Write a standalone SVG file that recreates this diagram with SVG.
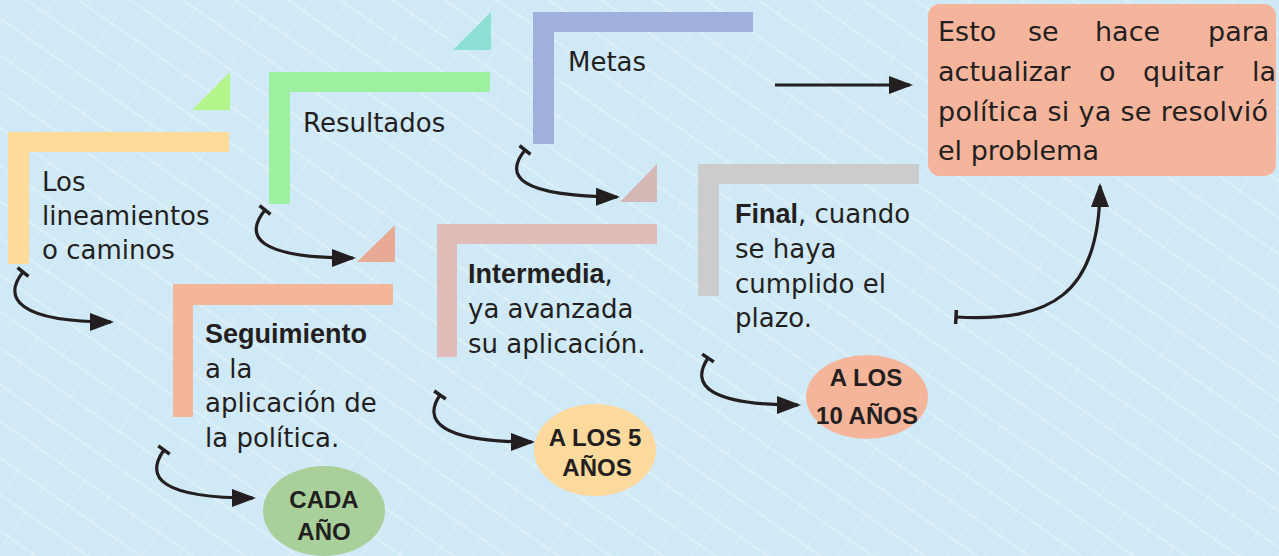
<svg xmlns="http://www.w3.org/2000/svg" width="1279" height="556" viewBox="0 0 1279 556">
<defs>
<style>
.t{font-family:"DejaVu Sans","Liberation Sans",sans-serif;font-size:26px;fill:#231f20}
.b{font-family:"Liberation Sans",Arial,sans-serif;font-size:27px;font-weight:bold}
.bx{font-family:"DejaVu Sans","Liberation Sans",sans-serif;font-size:27px;fill:#231f20}
.el{font-family:"Liberation Sans",Arial,sans-serif;font-size:24px;font-weight:bold;fill:#231f20;text-anchor:middle}
.c{fill:none;stroke:#231f20;stroke-width:3.2}
</style>
<pattern id="tex" width="60" height="60" patternUnits="userSpaceOnUse" patternTransform="rotate(35)">
<path d="M0,15 H60 M0,45 H60" stroke="#ffffff" stroke-opacity="0.28" stroke-width="2"/>
<path d="M15,0 V60 M45,0 V60" stroke="#ffffff" stroke-opacity="0.18" stroke-width="1.5"/>
</pattern>
<marker id="tee" markerUnits="userSpaceOnUse" markerWidth="20" markerHeight="20" viewBox="-10 -10 20 20" refX="0" refY="0" orient="auto">
<path d="M0,-7 V7" stroke="#231f20" stroke-width="3.5"/>
</marker>
<marker id="arr" markerUnits="userSpaceOnUse" markerWidth="24" markerHeight="20" viewBox="0 0 24 20" refX="21" refY="10" orient="auto">
<path d="M0,1 L24,10 L0,19 z" fill="#231f20"/>
</marker>
</defs>
<rect width="1279" height="556" fill="#d0e9f6"/>
<rect width="1279" height="556" fill="url(#tex)"/>

<g id="triangles">
<path d="M230,72 V110 H192 Z" fill="#b4f68b"/>
<path d="M491,12 V50 H453 Z" fill="#8ce0d4"/>
<path d="M395,225 V262 H357 Z" fill="#e8a995"/>
<path d="M657,164 V202 H620 Z" fill="#d4b8b4"/>
</g>

<g id="node-lineamientos">
<path d="M8,132 H229 V152 H29 V264 H8 Z" fill="#fddb99"/>
<text class="t" x="42" y="191">Los</text>
<text class="t" x="42" y="225">lineamientos</text>
<text class="t" x="42" y="259">o caminos</text>
</g>

<g id="node-resultados">
<path d="M269,72 H490 V92 H290 V204 H269 Z" fill="#9cf0a0"/>
<text class="t" x="303" y="132">Resultados</text>
</g>

<g id="node-metas">
<path d="M533,12 H753 V32 H554 V144 H533 Z" fill="#9fb0dc"/>
<text class="t" x="568" y="71">Metas</text>
</g>

<g id="node-seguimiento">
<path d="M173,284 H393 V305 H193 V417 H173 Z" fill="#f5b59b"/>
<text class="t" x="205" y="343"><tspan class="b">Seguimiento</tspan></text>
<text class="t" x="205" y="378">a la</text>
<text class="t" x="205" y="412">aplicación de</text>
<text class="t" x="205" y="447">la política.</text>
</g>

<g id="node-intermedia">
<path d="M437,224 H657 V244 H457 V357 H437 Z" fill="#e0bdb8"/>
<text class="t" x="468" y="283"><tspan class="b">Intermedia</tspan>,</text>
<text class="t" x="468" y="318">ya avanzada</text>
<text class="t" x="468" y="353">su aplicación.</text>
</g>

<g id="node-final">
<path d="M698,164 H919 V184 H719 V296 H698 Z" fill="#cccccc"/>
<text class="t" x="735" y="223"><tspan class="b">Final</tspan>, cuando</text>
<text class="t" x="735" y="258">se haya</text>
<text class="t" x="735" y="293">cumplido el</text>
<text class="t" x="735" y="327">plazo.</text>
</g>

<g id="node-actualizar">
<rect x="928" y="4" width="348" height="172" rx="12" fill="#f5b59c"/>
<text class="bx" y="41"><tspan x="938">Esto</tspan><tspan x="1028">se</tspan><tspan x="1095">hace</tspan><tspan x="1208">para</tspan></text>
<text class="bx" y="81"><tspan x="938">actualizar</tspan><tspan x="1099">o</tspan><tspan x="1143">quitar</tspan><tspan x="1252">la</tspan></text>
<text class="bx" x="938" y="121" textLength="330" lengthAdjust="spacing">política si ya se resolvió</text>
<text class="bx" x="938" y="160">el problema</text>
</g>

<g id="node-cada-ano">
<ellipse cx="324" cy="511" rx="61" ry="45" fill="#a9d09a"/>
<text class="el" x="324" y="508">CADA</text>
<text class="el" x="324" y="540">AÑO</text>
</g>

<g id="node-5-anos">
<ellipse cx="595" cy="450" rx="61" ry="46" fill="#fcd99c"/>
<text class="el" x="595" y="446">A LOS 5</text>
<text class="el" x="597" y="476">AÑOS</text>
</g>

<g id="node-10-anos">
<ellipse cx="867" cy="397" rx="61" ry="42" fill="#f5b59b"/>
<text class="el" x="866" y="386">A LOS</text>
<text class="el" x="867" y="424">10 AÑOS</text>
</g>

<g id="connectors">
<path class="c" d="M23,272 C2,298 18,322 111,322" marker-start="url(#tee)" marker-end="url(#arr)"/>
<path class="c" d="M265,210 C244,236 256,258 353,258" marker-start="url(#tee)" marker-end="url(#arr)"/>
<path class="c" d="M525,150 C504,176 518,196 617,197" marker-start="url(#tee)" marker-end="url(#arr)"/>
<path class="c" d="M164,450 C144,478 162,498 253,498" marker-start="url(#tee)" marker-end="url(#arr)"/>
<path class="c" d="M440,395 C423,420 438,442 532,442" marker-start="url(#tee)" marker-end="url(#arr)"/>
<path class="c" d="M708,358 C690,385 708,405 798,405" marker-start="url(#tee)" marker-end="url(#arr)"/>
<path class="c" d="M775,85 L910,85" marker-end="url(#arr)"/>
<path class="c" d="M956,317 C1050,322 1100,296 1100,186" marker-start="url(#tee)" marker-end="url(#arr)"/>
</g>
</svg>
